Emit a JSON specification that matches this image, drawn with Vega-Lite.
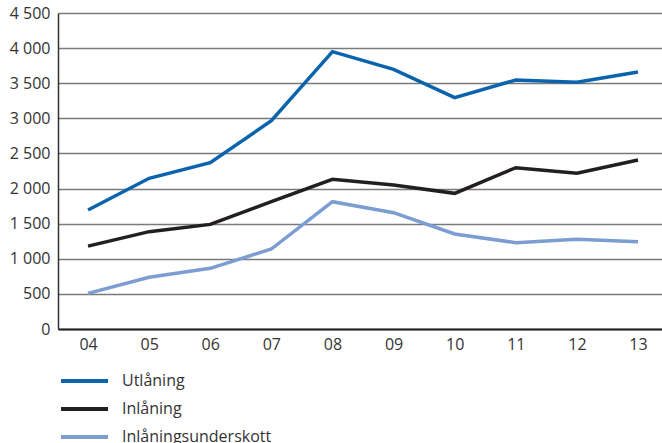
{
  "$schema": "https://vega.github.io/schema/vega-lite/v6.json",
  "width": 604,
  "height": 316,
  "autosize": "none",
  "padding": {"left": 58, "top": 13, "right": 0, "bottom": 114},
  "background": "white",
  "config": {
    "view": {"stroke": null},
    "font": "Open Sans"
  },
  "data": {
    "values": [
      {"year": "04", "series": "Utlåning", "value": 1695},
      {"year": "05", "series": "Utlåning", "value": 2146},
      {"year": "06", "series": "Utlåning", "value": 2368},
      {"year": "07", "series": "Utlåning", "value": 2966},
      {"year": "08", "series": "Utlåning", "value": 3949},
      {"year": "09", "series": "Utlåning", "value": 3698},
      {"year": "10", "series": "Utlåning", "value": 3294},
      {"year": "11", "series": "Utlåning", "value": 3546},
      {"year": "12", "series": "Utlåning", "value": 3513},
      {"year": "13", "series": "Utlåning", "value": 3660},
      {"year": "04", "series": "Inlåning", "value": 1180},
      {"year": "05", "series": "Inlåning", "value": 1386},
      {"year": "06", "series": "Inlåning", "value": 1490},
      {"year": "07", "series": "Inlåning", "value": 1813},
      {"year": "08", "series": "Inlåning", "value": 2132},
      {"year": "09", "series": "Inlåning", "value": 2051},
      {"year": "10", "series": "Inlåning", "value": 1932},
      {"year": "11", "series": "Inlåning", "value": 2297},
      {"year": "12", "series": "Inlåning", "value": 2217},
      {"year": "13", "series": "Inlåning", "value": 2407},
      {"year": "04", "series": "Inlåningsunderskott", "value": 508},
      {"year": "05", "series": "Inlåningsunderskott", "value": 736},
      {"year": "06", "series": "Inlåningsunderskott", "value": 864},
      {"year": "07", "series": "Inlåningsunderskott", "value": 1139},
      {"year": "08", "series": "Inlåningsunderskott", "value": 1813},
      {"year": "09", "series": "Inlåningsunderskott", "value": 1656},
      {"year": "10", "series": "Inlåningsunderskott", "value": 1353},
      {"year": "11", "series": "Inlåningsunderskott", "value": 1229},
      {"year": "12", "series": "Inlåningsunderskott", "value": 1277},
      {"year": "13", "series": "Inlåningsunderskott", "value": 1243}
    ]
  },
  "mark": {"type": "line", "strokeWidth": 3.5, "strokeCap": "butt", "strokeJoin": "miter"},
  "encoding": {
    "x": {
      "field": "year",
      "type": "ordinal",
      "scale": {"type": "point", "padding": 0.442, "align": 0.556},
      "axis": {
        "title": null,
        "labelAngle": 0,
        "ticks": false,
        "domain": true,
        "domainColor": "#222222",
        "domainWidth": 2,
        "grid": false,
        "labelFontSize": 16,
        "labelColor": "#333333",
        "labelPadding": 7
      }
    },
    "y": {
      "field": "value",
      "type": "quantitative",
      "scale": {"domain": [0, 4500], "nice": false},
      "axis": {
        "title": null,
        "values": [0, 500, 1000, 1500, 2000, 2500, 3000, 3500, 4000, 4500],
        "labelExpr": "replace(format(datum.value, ','), ',', ' ')",
        "ticks": false,
        "domain": true,
        "domainColor": "#333333",
        "domainWidth": 1.5,
        "grid": true,
        "gridColor": "#7a7a7a",
        "gridWidth": 1.5,
        "labelFontSize": 16,
        "labelColor": "#333333",
        "labelPadding": 8
      }
    },
    "color": {
      "field": "series",
      "type": "nominal",
      "sort": ["Utlåning", "Inlåning", "Inlåningsunderskott"],
      "scale": {
        "domain": ["Utlåning", "Inlåning", "Inlåningsunderskott"],
        "range": ["#0a64ad", "#231f20", "#7b9dd2"]
      },
      "legend": {
        "title": null,
        "orient": "none",
        "legendX": 0,
        "legendY": 360,
        "direction": "vertical",
        "symbolType": "M-1,0H8.4",
        "symbolSize": 100,
        "symbolStrokeWidth": 4,
        "labelFontSize": 16,
        "labelColor": "#333333",
        "rowPadding": 12,
        "labelOffset": 48
      }
    }
  }
}
